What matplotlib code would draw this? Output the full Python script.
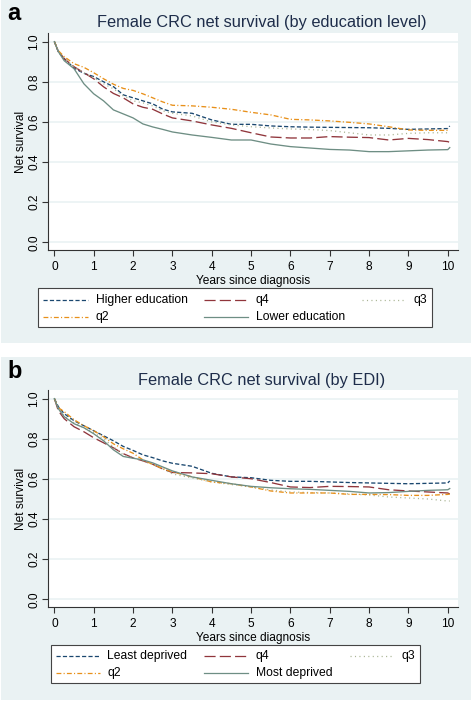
import matplotlib.pyplot as plt
from matplotlib.patches import Rectangle
from matplotlib.lines import Line2D

plt.rcParams['font.family'] = ['Liberation Sans', 'DejaVu Sans']
plt.rcParams['lines.scale_dashes'] = False

W, H = 472, 701

# years since diagnosis
years = [0, 0.1, 0.25, 0.5, 0.75, 1, 1.25, 1.5, 1.75, 2, 2.25, 2.5, 2.75, 3, 3.5,
         4, 4.5, 5, 5.5, 6, 6.5, 7, 7.5, 8, 8.5, 9, 9.5, 10, 10.05]

# panel a: by education level
edu_higher = [1.0, 0.95, 0.915, 0.868, 0.842, 0.826, 0.80, 0.776, 0.735, 0.72, 0.705, 0.69, 0.664, 0.65, 0.643,
              0.61, 0.588, 0.588, 0.58, 0.576, 0.574, 0.573, 0.572, 0.571, 0.568, 0.563, 0.565, 0.567, 0.58]
edu_q4 = [1.0, 0.95, 0.915, 0.875, 0.845, 0.815, 0.775, 0.742, 0.72, 0.69, 0.673, 0.663, 0.64, 0.62, 0.605,
          0.585, 0.568, 0.546, 0.525, 0.52, 0.52, 0.527, 0.524, 0.522, 0.51, 0.518, 0.512, 0.502, 0.498]
edu_q3 = [1.0, 0.95, 0.915, 0.875, 0.845, 0.82, 0.79, 0.765, 0.73, 0.705, 0.695, 0.68, 0.655, 0.643, 0.63,
          0.60, 0.585, 0.576, 0.57, 0.565, 0.562, 0.557, 0.546, 0.535, 0.535, 0.543, 0.546, 0.546, 0.548]
edu_q2 = [1.0, 0.955, 0.925, 0.89, 0.872, 0.845, 0.815, 0.788, 0.767, 0.757, 0.74, 0.72, 0.70, 0.683, 0.68,
          0.673, 0.663, 0.648, 0.635, 0.613, 0.61, 0.605, 0.598, 0.59, 0.576, 0.56, 0.558, 0.558, 0.56]
edu_lower = [1.0, 0.95, 0.905, 0.865, 0.79, 0.74, 0.705, 0.66, 0.64, 0.62, 0.59, 0.575, 0.563, 0.55, 0.535,
             0.523, 0.51, 0.51, 0.49, 0.477, 0.47, 0.463, 0.46, 0.452, 0.452, 0.456, 0.46, 0.462, 0.472]

# panel b: by EDI
edi_least = [1.0, 0.96, 0.925, 0.89, 0.865, 0.84, 0.815, 0.79, 0.762, 0.742, 0.72, 0.706, 0.69, 0.678, 0.663,
             0.628, 0.61, 0.606, 0.593, 0.588, 0.588, 0.585, 0.582, 0.58, 0.578, 0.576, 0.578, 0.58, 0.59]
edi_q4 = [1.0, 0.94, 0.90, 0.86, 0.835, 0.805, 0.78, 0.755, 0.726, 0.705, 0.69, 0.673, 0.65, 0.632, 0.63,
          0.626, 0.61, 0.601, 0.582, 0.56, 0.557, 0.563, 0.562, 0.56, 0.546, 0.54, 0.535, 0.53, 0.525]
edi_q3 = [1.0, 0.95, 0.915, 0.88, 0.855, 0.83, 0.80, 0.76, 0.72, 0.705, 0.69, 0.672, 0.65, 0.625, 0.605,
          0.585, 0.572, 0.56, 0.545, 0.535, 0.532, 0.53, 0.525, 0.52, 0.51, 0.505, 0.50, 0.49, 0.49]
edi_q2 = [1.0, 0.955, 0.935, 0.895, 0.865, 0.84, 0.81, 0.775, 0.75, 0.728, 0.695, 0.672, 0.652, 0.635, 0.61,
          0.585, 0.576, 0.56, 0.54, 0.53, 0.53, 0.53, 0.523, 0.523, 0.522, 0.518, 0.518, 0.523, 0.525]
edi_most = [1.0, 0.95, 0.91, 0.875, 0.855, 0.825, 0.79, 0.745, 0.712, 0.703, 0.695, 0.68, 0.66, 0.64, 0.61,
            0.593, 0.576, 0.563, 0.556, 0.551, 0.548, 0.543, 0.538, 0.53, 0.532, 0.538, 0.543, 0.546, 0.552]

BG = '#eaf2f3'
styles = [  # color, dashes (None = solid)
    ('#1a476f', (3.0, 1.6)),
    ('#90353b', (8.0, 3.0)),
    ('#a9b493', (0.8, 2.4)),
    ('#e8901a', (3.5, 1.6, 0.8, 1.6)),
    ('#6e8e84', None),
]


def px_rect(x0, y0, x1, y1):
    return [x0 / W, 1 - y1 / H, (x1 - x0) / W, (y1 - y0) / H]


def fx(x):
    return x / W


def fy(y):
    return 1 - y / H


def draw_legend(fig, top, box, keys, labels):
    # box: x0, y0, x1, y1 (px, relative to panel top); keys: (key_x0, key_x1, text_x, row_y)
    x0, y0, x1, y1 = box
    fig.patches.append(Rectangle((fx(x0), fy(top + y1)), (x1 - x0) / W, (y1 - y0) / H,
                                 transform=fig.transFigure, facecolor='white',
                                 edgecolor='#444444', lw=0.8, zorder=1))
    for (kx0, kx1, tx, ry), lab, (col, dash) in zip(keys, labels, styles):
        ln = Line2D([fx(kx0), fx(kx1)], [fy(top + ry)] * 2, transform=fig.transFigure,
                    color=col, lw=0.9, zorder=2)
        if dash is not None:
            ln.set_dashes(dash)
        fig.lines.append(ln)
        fig.text(fx(tx), fy(top + ry), lab, ha='left', va='center', fontsize=8.7, zorder=2)


def draw_panel(fig, top, letter, title, series, labels, box, keys):
    # panel background
    fig.patches.append(Rectangle((1 / W, 1 - (top + 343) / H), 470 / W, 343 / H,
                                 transform=fig.transFigure, facecolor=BG,
                                 edgecolor='none', zorder=-5))
    ax = fig.add_axes(px_rect(47.7, top + 33, 458, top + 250))
    ax.set_zorder(1)
    ax.set_facecolor('white')
    for vals, (col, dash) in zip(series, styles):
        ln, = ax.plot(years, vals, color=col, lw=0.95)
        if dash is not None:
            ln.set_dashes(dash)

    ax.set_xlim(-0.17, 10.26)
    ax.set_ylim(-0.038, 1.043)
    ax.set_xticks(range(0, 11))
    ax.set_yticks([0, 0.2, 0.4, 0.6, 0.8, 1.0])
    ax.set_yticklabels(['0.0', '0.2', '0.4', '0.6', '0.8', '1.0'], rotation=90, va='center')
    ax.grid(axis='y', color=BG, lw=1.2)
    ax.set_axisbelow(True)
    for s in ['top', 'right']:
        ax.spines[s].set_visible(False)
    for s in ['left', 'bottom']:
        ax.spines[s].set_color('#333333')
        ax.spines[s].set_linewidth(0.8)
    ax.tick_params(length=4, width=0.8, color='#333333', labelsize=8.6)
    ax.tick_params(axis='x', pad=4)
    ax.tick_params(axis='y', pad=1.5)
    ax.set_xlabel('Years since diagnosis', fontsize=8.6, labelpad=1)
    ax.set_ylabel('Net survival', fontsize=8.6, labelpad=1)

    fig.text(262 / W, 1 - (top + 23) / H, title, ha='center', va='center',
             fontsize=11.8, color='#1e2d4a', zorder=2)
    fig.text(7 / W, 1 - (top + 14) / H, letter, ha='left', va='center',
             fontsize=17, fontweight='bold', zorder=2)

    draw_legend(fig, top, box, keys, labels)
    return ax


fig = plt.figure(figsize=(W / 100, H / 100), dpi=100, facecolor='white')

keys_a = [(43, 88, 96, 300), (204, 248, 256, 300), (362, 406, 414, 300),
          (43, 88, 96, 316.7), (204, 248, 256, 316.7)]
keys_b = [(55.7, 100, 107, 299), (204, 248, 256, 299), (350, 394, 402, 299),
          (55.7, 100, 107, 315.7), (204, 248, 256, 315.7)]

draw_panel(fig, 0, 'a', 'Female CRC net survival (by education level)',
           [edu_higher, edu_q4, edu_q3, edu_q2, edu_lower],
           ['Higher education', 'q4', 'q3', 'q2', 'Lower education'],
           (38, 288, 432, 327), keys_a)
draw_panel(fig, 357, 'b', 'Female CRC net survival (by EDI)',
           [edi_least, edi_q4, edi_q3, edi_q2, edi_most],
           ['Least deprived', 'q4', 'q3', 'q2', 'Most deprived'],
           (50.7, 288, 420, 326), keys_b)

fig.savefig('out.png', dpi=100, facecolor='white')
